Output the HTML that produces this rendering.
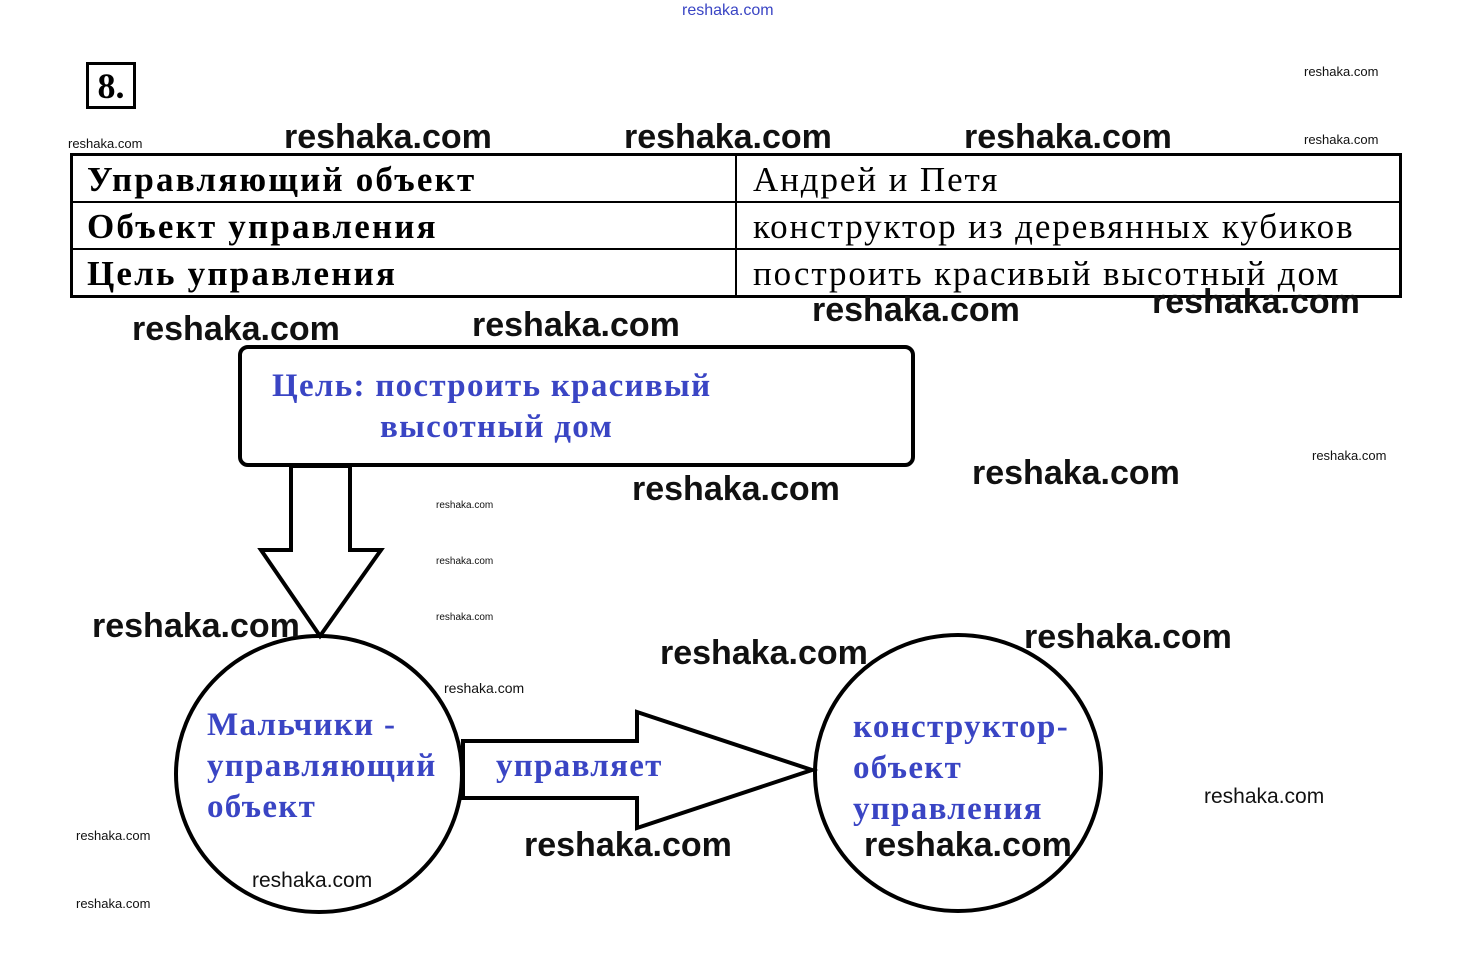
<!DOCTYPE html>
<html><head><meta charset="utf-8"><style>
body{margin:0;width:1460px;height:978px;background:#fff;position:relative;overflow:hidden;font-family:"Liberation Serif","Noto Serif CJK SC",serif}
.a{position:absolute;white-space:nowrap}
.w{position:absolute;font-family:"Liberation Sans",sans-serif;font-weight:bold;font-size:34px;color:#111;line-height:1}
.s{position:absolute;font-family:"Liberation Sans",sans-serif;font-size:13px;color:#111;line-height:1}
.m{position:absolute;font-family:"Liberation Sans",sans-serif;font-size:21px;color:#111;line-height:1}
.b{color:#3a45c4;font-weight:bold;font-size:33px;line-height:41px;letter-spacing:1.3px}
td{border:2px solid #000;font-size:35px;padding:2px 0 0 16px;height:43px;line-height:41px;letter-spacing:1.9px;white-space:nowrap}
</style></head><body>
<div class="a" style="left:682px;top:2px;font-family:'Liberation Sans',sans-serif;font-size:16px;color:#3a45c4">reshaka.com</div>
<div class="a" style="left:86px;top:62px;width:44px;height:41px;border:3px solid #000;font-size:36px;font-weight:bold;line-height:42px;text-align:center">8.</div>
<table style="position:absolute;left:70px;top:153px;width:1332px;border-collapse:collapse;border:3px solid #000">
<tr><td style="width:648px;font-weight:bold;padding-left:14px;letter-spacing:2.2px">Управляющий объект</td><td>Андрей и Петя</td></tr>
<tr><td style="font-weight:bold;padding-left:14px;letter-spacing:2.2px">Объект управления</td><td>конструктор из деревянных кубиков</td></tr>
<tr><td style="font-weight:bold;padding-left:14px;letter-spacing:2.2px">Цель управления</td><td>построить красивый высотный дом</td></tr>
</table>
<svg width="1460" height="978" style="position:absolute;left:0;top:0">
<rect x="240" y="347" width="673" height="118" rx="8" fill="none" stroke="#000" stroke-width="4"/>
<polygon points="291,466 350,466 350,550 381,550 320,636 261,550 291,550" fill="#fff" stroke="#000" stroke-width="4"/>
<ellipse cx="319" cy="774" rx="143" ry="138" fill="none" stroke="#000" stroke-width="4"/>
<ellipse cx="958" cy="773" rx="143" ry="138" fill="none" stroke="#000" stroke-width="4"/>
<polygon points="463,741 637,741 637,712 812,770 637,828 637,798 463,798" fill="#fff" stroke="#000" stroke-width="4"/>
</svg>
<div class="a b" style="left:272px;top:366px">Цель: построить красивый</div>
<div class="a b" style="left:380px;top:407px">высотный дом</div>
<div class="a b" style="left:207px;top:705px">Мальчики -<br>управляющий<br>объект</div>
<div class="a b" style="left:496px;top:746px">управляет</div>
<div class="a b" style="left:853px;top:707px">конструктор-<br>объект<br>управления</div>
<div class="w" style="left:284px;top:120px">reshaka.com</div>
<div class="w" style="left:624px;top:120px">reshaka.com</div>
<div class="w" style="left:964px;top:120px">reshaka.com</div>
<div class="w" style="left:132px;top:312px">reshaka.com</div>
<div class="w" style="left:472px;top:308px">reshaka.com</div>
<div class="w" style="left:812px;top:293px">reshaka.com</div>
<div class="w" style="left:1152px;top:285px">reshaka.com</div>
<div class="w" style="left:632px;top:472px">reshaka.com</div>
<div class="w" style="left:972px;top:456px">reshaka.com</div>
<div class="w" style="left:92px;top:609px">reshaka.com</div>
<div class="w" style="left:660px;top:636px">reshaka.com</div>
<div class="w" style="left:1024px;top:620px">reshaka.com</div>
<div class="w" style="left:524px;top:828px">reshaka.com</div>
<div class="w" style="left:864px;top:828px">reshaka.com</div>
<div class="m" style="left:1204px;top:786px">reshaka.com</div>
<div class="m" style="left:252px;top:870px">reshaka.com</div>
<div class="s" style="left:1304px;top:65px">reshaka.com</div>
<div class="s" style="left:1304px;top:133px">reshaka.com</div>
<div class="s" style="left:68px;top:137px">reshaka.com</div>
<div class="s" style="left:1312px;top:449px">reshaka.com</div>
<div class="s" style="left:436px;top:501px;font-size:10px">reshaka.com</div>
<div class="s" style="left:436px;top:557px;font-size:10px">reshaka.com</div>
<div class="s" style="left:436px;top:613px;font-size:10px">reshaka.com</div>
<div class="s" style="left:444px;top:681px;font-size:14px">reshaka.com</div>
<div class="s" style="left:76px;top:829px">reshaka.com</div>
<div class="s" style="left:76px;top:897px">reshaka.com</div>
</body></html>
